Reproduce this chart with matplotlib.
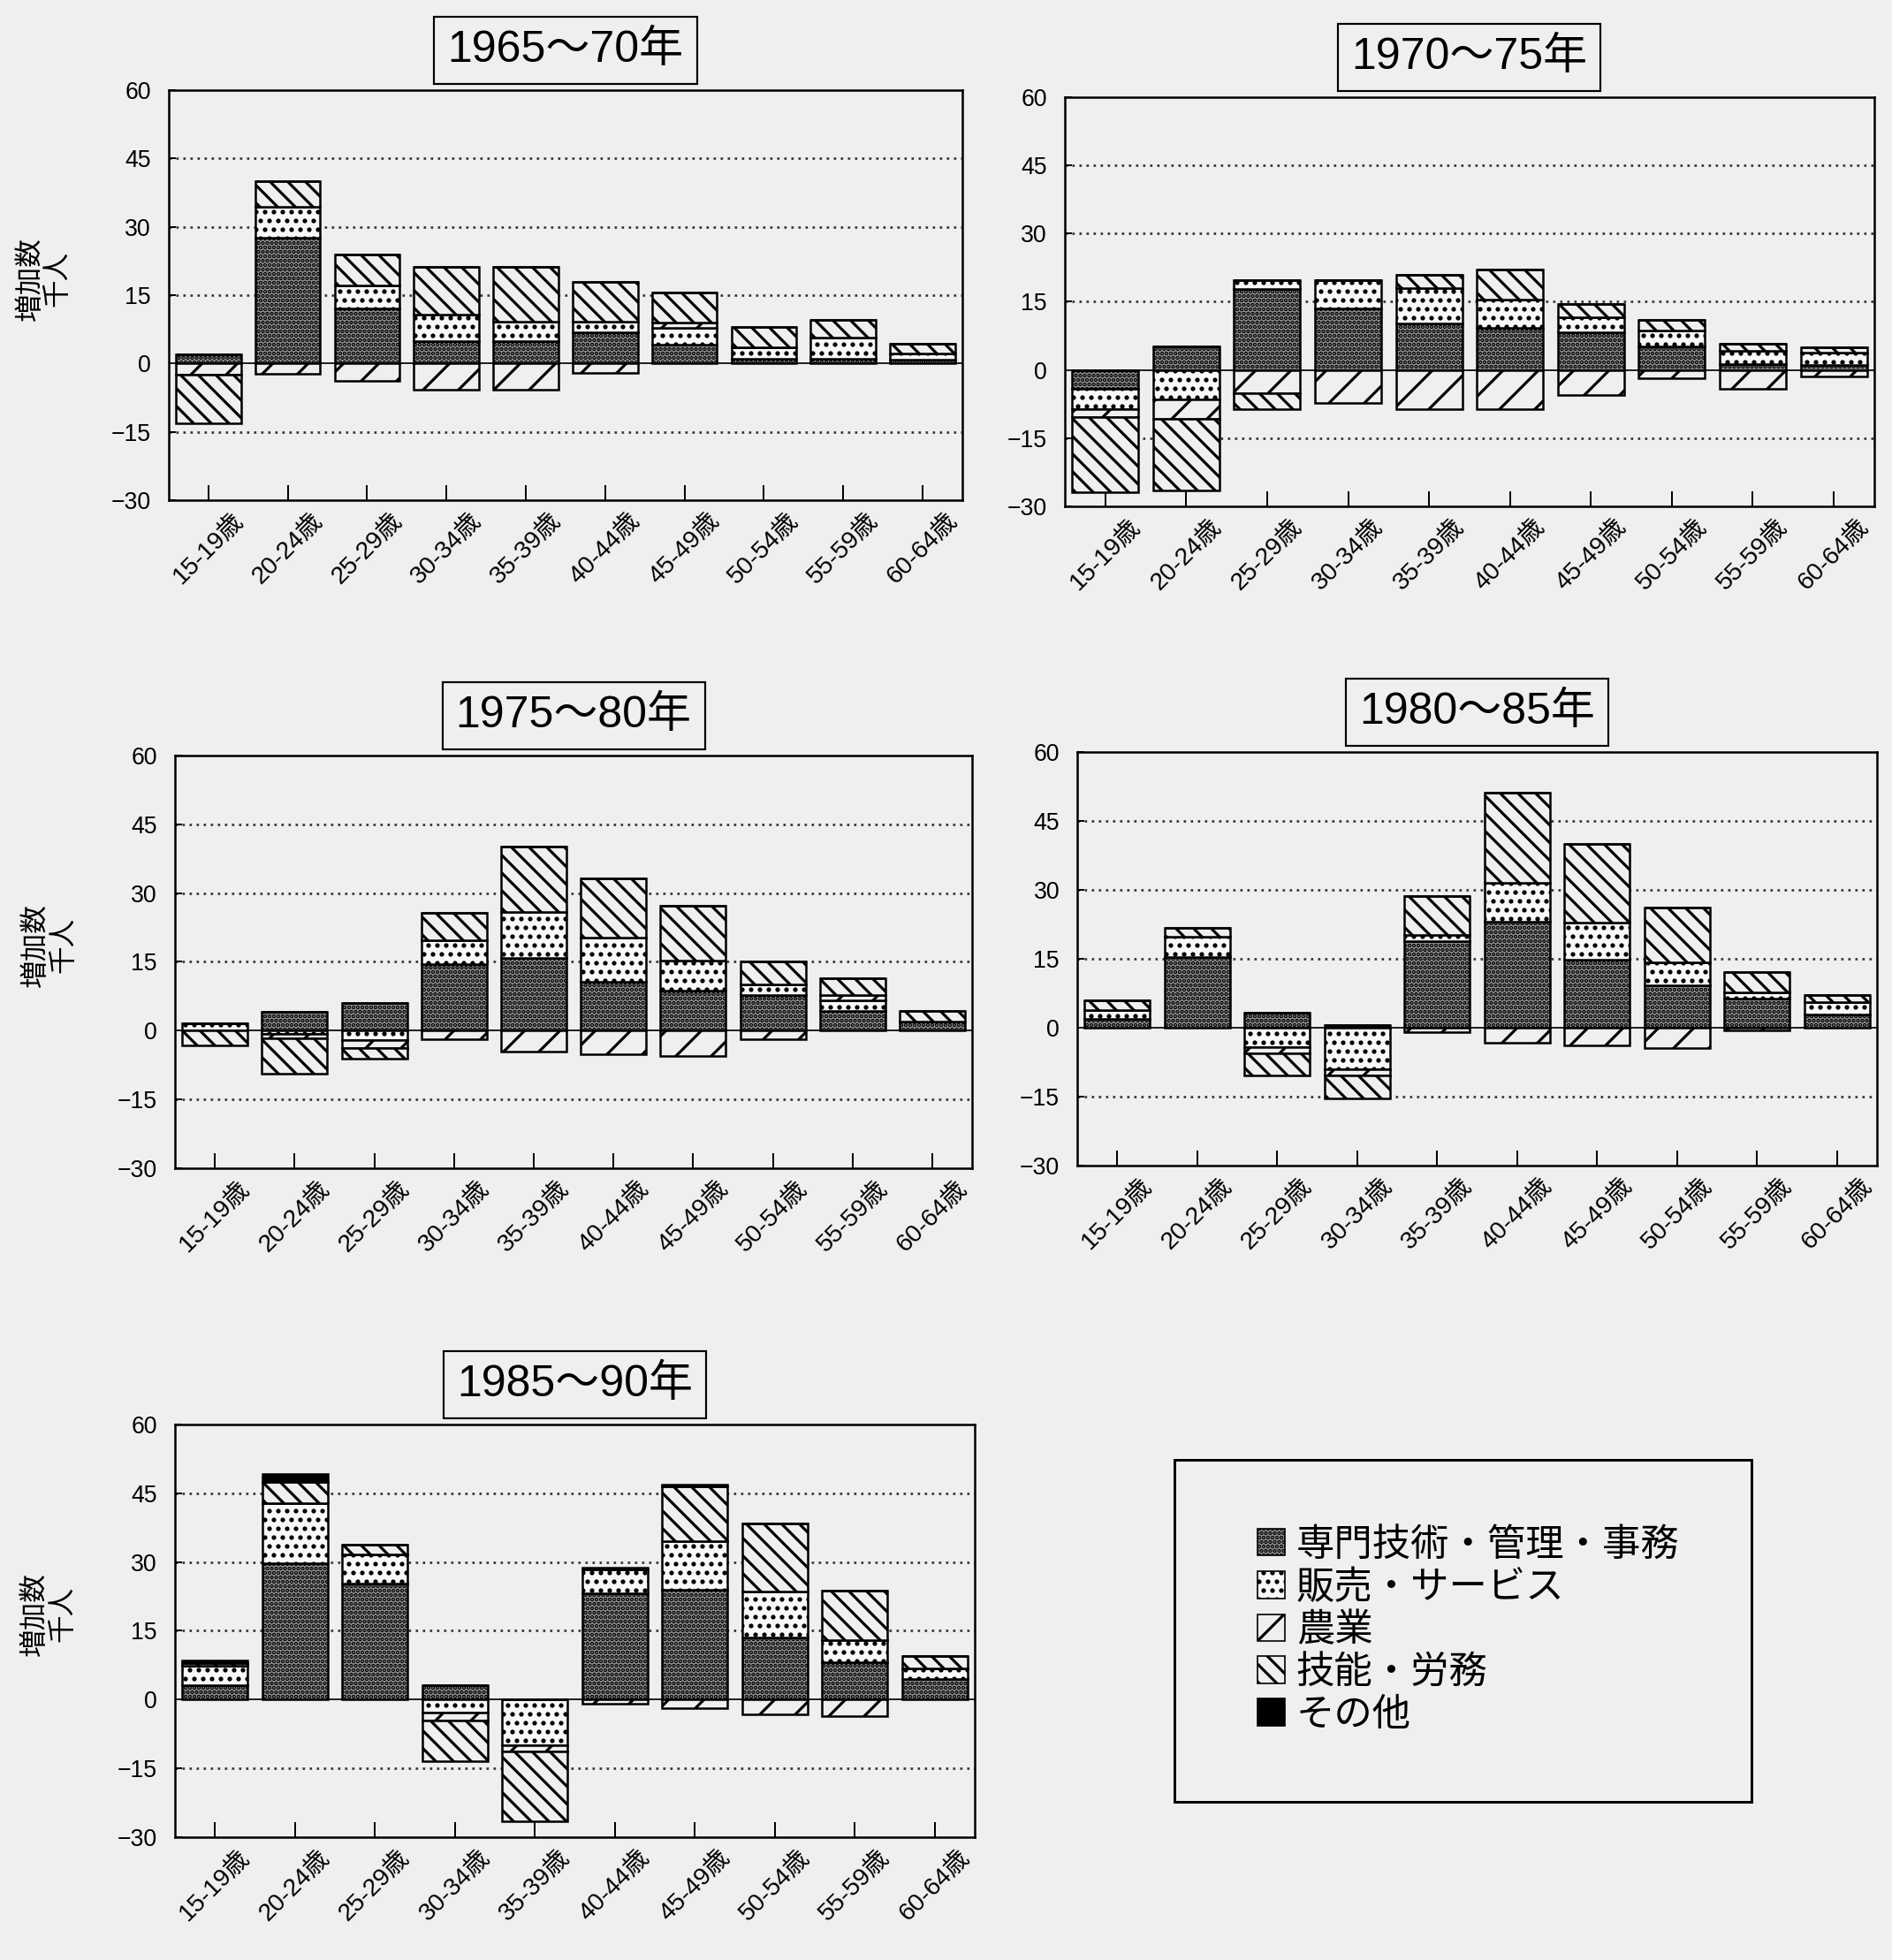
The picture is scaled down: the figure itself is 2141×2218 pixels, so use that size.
import numpy as np
import matplotlib
matplotlib.use("Agg")
import matplotlib.pyplot as plt
from matplotlib.patches import Patch

plt.rcParams['font.family'] = ['Liberation Sans', 'Noto Sans CJK JP']
plt.rcParams['hatch.linewidth'] = 1.9

BG = '#efefef'

ages = ['15-19歳', '20-24歳', '25-29歳', '30-34歳', '35-39歳',
        '40-44歳', '45-49歳', '50-54歳', '55-59歳', '60-64歳']
occupations = ['専門技術・管理・事務', '販売・サービス', '農業', '技能・労務', 'その他']
periods = ['1965～70年', '1970～75年', '1975～80年', '1980～85年', '1985～90年']

# increase in workers (thousand persons) by occupation, 1965-70
prof_6570 = [2.1, 27.6, 12.0, 4.9, 4.9, 6.8, 4.1, 1.0, 1.0, 0.9]
sales_6570 = [0, 6.8, 5.2, 5.8, 4.2, 2.3, 3.8, 2.6, 4.6, 1.3]
agri_6570 = [-2.5, -2.3, -3.9, -5.8, -5.8, -2.1, 1.0, 0, 0, 0]
labor_6570 = [-10.7, 5.6, 6.8, 10.5, 12.1, 8.9, 6.6, 4.4, 3.9, 2.2]
other_6570 = [0, 0, 0, 0, 0, 0, 0, 0, 0, 0]

# 1970-75
prof_7075 = [-4.2, 5.2, 17.8, 13.5, 10.3, 9.3, 8.2, 5.2, 1.3, 1.0]
sales_7075 = [-4.5, -6.5, 2.0, 6.2, 7.8, 6.2, 3.4, 3.5, 2.9, 2.9]
agri_7075 = [-1.6, -4.2, -5.2, -7.3, -8.7, -8.7, -5.6, -1.9, -4.1, -1.5]
labor_7075 = [-16.7, -15.8, -3.5, 0, 2.9, 6.5, 3.0, 2.3, 1.6, 1.0]
other_7075 = [0, 0, 0, 0, 0, 0, 0, 0, 0, 0]

# 1975-80
prof_7580 = [0, 4.0, 6.0, 14.4, 15.8, 10.6, 8.7, 7.7, 4.2, 1.9]
sales_7580 = [1.6, -0.8, -2.0, 5.3, 10.0, 9.7, 6.5, 2.3, 2.3, 0]
agri_7580 = [0, -0.8, -1.9, -1.9, -4.5, -5.2, -5.5, -1.9, 1.3, 0]
labor_7580 = [-3.2, -7.8, -2.3, 5.9, 14.3, 12.9, 12.1, 5.0, 3.7, 2.3]
other_7580 = [0, 0, 0, 0, 0, 0, 0, 0, 0, 0]

# 1980-85
prof_8085 = [1.9, 15.4, 3.3, 0.6, 18.9, 23.1, 14.9, 9.3, 6.4, 2.9]
sales_8085 = [1.9, 4.5, -4.2, -9.0, 1.3, 8.5, 7.9, 4.9, 1.3, 2.6]
agri_8085 = [0, 0, -1.3, -1.3, -1.0, -3.2, -3.8, -4.4, -0.6, 0]
labor_8085 = [2.1, 1.8, -4.8, -5.0, 8.5, 19.6, 17.3, 11.9, 4.5, 1.7]
other_8085 = [0, 0, 0, 0, 0, 0, 0, 0, 0, 0]

# 1985-90
prof_8590 = [3.2, 29.7, 25.2, 3.2, 0, 23.2, 23.9, 13.5, 8.1, 4.5]
sales_8590 = [4.2, 13.2, 6.5, -2.9, -10.0, 5.2, 10.6, 10.0, 4.8, 2.3]
agri_8590 = [0, 0, 0, -1.6, -1.3, -1.0, -1.9, -3.2, -3.7, 0]
labor_8590 = [0.5, 4.5, 2.1, -9.0, -15.2, 0, 11.9, 14.8, 10.8, 2.6]
other_8590 = [0.6, 1.8, 0, 0, 0, 0.3, 0.4, 0, 0, 0]

panels = [
    [prof_6570, sales_6570, agri_6570, labor_6570, other_6570],
    [prof_7075, sales_7075, agri_7075, labor_7075, other_7075],
    [prof_7580, sales_7580, agri_7580, labor_7580, other_7580],
    [prof_8085, sales_8085, agri_8085, labor_8085, other_8085],
    [prof_8590, sales_8590, agri_8590, labor_8590, other_8590],
]

styles = [
    dict(facecolor='#8c8c8c', hatch='....'),
    dict(facecolor='#f8f8f8', hatch='..'),
    dict(facecolor=BG, hatch='/'),
    dict(facecolor=BG, hatch='\\\\'),
    dict(facecolor='black', hatch=None),
]

rects = [
    [0.0892, 0.7448, 0.4194, 0.2092],
    [0.5628, 0.7417, 0.4278, 0.2087],
    [0.0925, 0.4040, 0.4213, 0.2106],
    [0.5694, 0.4053, 0.4227, 0.2110],
    [0.0925, 0.0627, 0.4227, 0.2106],
]
with_ylabel = [True, False, True, False, True]

fig = plt.figure(figsize=(2141 / 120, 2218 / 120), dpi=120, facecolor=BG)


def draw_panel(ax, series, title, ylabel):
    x = np.arange(len(ages))
    pos = np.zeros(len(ages))
    neg = np.zeros(len(ages))
    for vals, st in zip(series, styles):
        v = np.array(vals, dtype=float)
        base = np.where(v >= 0, pos, neg)
        ax.bar(x, v, 0.82, bottom=base, edgecolor='black', linewidth=1.5,
               zorder=3, **st)
        pos = pos + np.where(v > 0, v, 0)
        neg = neg + np.where(v < 0, v, 0)

    ax.set_facecolor(BG)
    ax.set_xlim(-0.5, 9.5)
    ax.set_ylim(-30, 60)
    ax.set_yticks([-30, -15, 0, 15, 30, 45, 60])
    for y in [-15, 15, 30, 45]:
        ax.axhline(y, color='#333333', lw=1.6, ls=(0, (1, 2)), zorder=1)
    ax.axhline(0, color='#222222', lw=1.2, zorder=2)
    ax.set_xticks(x)
    ax.set_xticklabels(ages, rotation=45, fontsize=17)
    ax.tick_params(axis='x', direction='in', length=10, width=1.2, pad=6)
    ax.tick_params(axis='y', direction='in', length=5, width=1.2, pad=12,
                   labelsize=16)
    for s in ax.spines.values():
        s.set_linewidth(1.5)

    ax.annotate(title, xy=(0.5, 1), xycoords='axes fraction', xytext=(0, 27),
                textcoords='offset points', ha='center', va='center',
                fontsize=30,
                bbox=dict(boxstyle='square,pad=0.3', fc=BG, ec='black', lw=1.3))
    if ylabel:
        ax.text(-0.157, 0.54, '増加数\n千人', transform=ax.transAxes,
                rotation=90, ha='center', va='center', multialignment='center',
                fontsize=19, linespacing=1.05)


for rect, series, title, yl in zip(rects, panels, periods, with_ylabel):
    ax = fig.add_axes(rect)
    draw_panel(ax, series, title, yl)

# legend box
ax_leg = fig.add_axes([0.6207, 0.0807, 0.3050, 0.1745])
ax_leg.set_facecolor(BG)
ax_leg.set_xticks([])
ax_leg.set_yticks([])
for s in ax_leg.spines.values():
    s.set_linewidth(1.8)
handles = [Patch(edgecolor='black', linewidth=1.0, label=lab, **st)
           for lab, st in zip(occupations, styles)]
ax_leg.legend(handles=handles, loc='center left', bbox_to_anchor=(0.085, 0.5),
              frameon=False, fontsize=26, handlelength=0.7, handleheight=0.7,
              handletextpad=0.3, labelspacing=0.18)

fig.savefig('out.png', dpi=120, facecolor=BG)
